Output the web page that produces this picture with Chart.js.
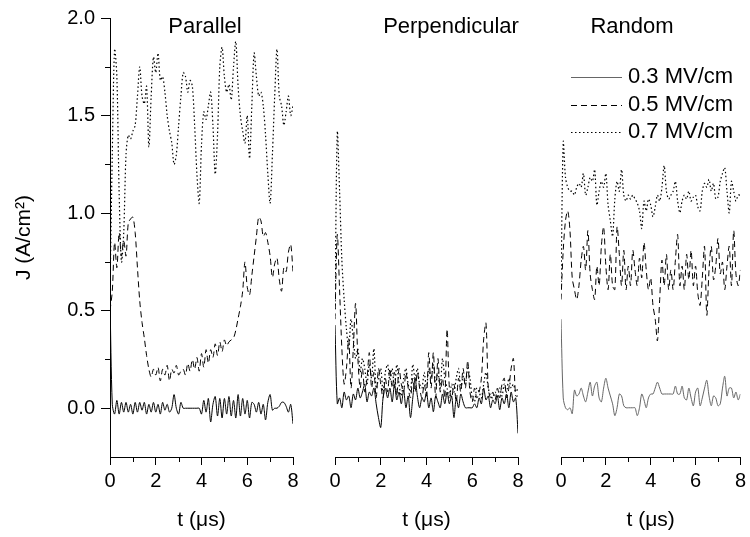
<!DOCTYPE html>
<html>
<head>
<meta charset="utf-8">
<script src="https://cdn.jsdelivr.net/npm/chart.js@4.4.1/dist/chart.umd.min.js"></script>
<style>
  body { margin: 0; background: #fff; }
  #wrap { position: relative; width: 750px; height: 537px; }
  #wrap canvas { position: absolute; left: 0; top: 0; }
</style>
</head>
<body>
<div id="wrap">
  <canvas id="c1" width="750" height="537"></canvas>
  <canvas id="c2" width="750" height="537"></canvas>
  <canvas id="c3" width="750" height="537"></canvas>
</div>
<script>
// time axis, in microseconds
const times = [
  0, 0.1, 0.2, 0.3, 0.4, 0.5, 0.6, 0.7, 0.8, 0.9,
  1.0, 1.1, 1.2, 1.3, 1.4, 1.5, 1.6, 1.7, 1.8, 1.9,
  2.0, 2.1, 2.2, 2.3, 2.4, 2.5, 2.6, 2.7, 2.8, 2.9,
  3.0, 3.1, 3.2, 3.3, 3.4, 3.5, 3.6, 3.7, 3.8, 3.9,
  4.0, 4.1, 4.2, 4.3, 4.4, 4.5, 4.6, 4.7, 4.8, 4.9,
  5.0, 5.1, 5.2, 5.3, 5.4, 5.5, 5.6, 5.7, 5.8, 5.9,
  6.0, 6.1, 6.2, 6.3, 6.4, 6.5, 6.6, 6.7, 6.8, 6.9,
  7.0, 7.1, 7.2, 7.3, 7.4, 7.5, 7.6, 7.7, 7.8, 7.9,
  8.0
];

const seriesNames = ['0.3 MV/cm', '0.5 MV/cm', '0.7 MV/cm'];
const panelNames = ['Parallel', 'Perpendicular', 'Random'];
const xMinor = [1, 3, 5, 7];
const yMinor = [0.25, 0.75, 1.25, 1.75];

// Parallel
const parallel03 = [
  0.55, 0.02, -0.03, 0.04, -0.03, 0.03, -0.02, 0.03, -0.02, 0.02,
  -0.03, 0.03, -0.02, 0.03, -0.01, 0.03, -0.03, 0.02, -0.02, 0.03,
  -0.02, 0.02, -0.03, 0.03, -0.01, 0.02, -0.02, 0.0, 0.07, 0.0,
  -0.03, 0.03, 0.0, 0.0, 0.0, 0.0, 0.0, 0.0, 0.0, 0.0,
  -0.03, 0.04, -0.02, 0.05, -0.07, 0.02, 0.06, -0.04, 0.05, -0.05,
  0.05, -0.03, 0.06, -0.04, 0.04, -0.05, 0.07, -0.04, 0.05, -0.03,
  0.04, -0.05, 0.03, 0.02, -0.02, 0.03, -0.03, 0.02, -0.06, 0.03,
  0.07, -0.01, 0.0, 0.0, 0.01, 0.03, 0.03, 0.01, -0.02, 0.02,
  -0.08
];
const parallel05 = [
  0.5, 0.6, 0.85, 0.72, 0.9, 0.78, 0.86, 0.78, 0.95, 0.97,
  0.98, 0.9, 0.72, 0.55, 0.44, 0.36, 0.27, 0.2, 0.16, 0.2,
  0.17, 0.21, 0.14, 0.2, 0.17, 0.22, 0.14, 0.2, 0.18, 0.22,
  0.17, 0.19, 0.2, 0.17, 0.23, 0.19, 0.25, 0.2, 0.26, 0.19,
  0.28, 0.21, 0.3, 0.23, 0.3, 0.26, 0.33, 0.27, 0.34, 0.29,
  0.35, 0.32, 0.34, 0.35, 0.36, 0.4, 0.46, 0.52, 0.6, 0.75,
  0.62, 0.58, 0.68, 0.78, 0.88, 0.98, 0.96, 0.88, 0.9, 0.85,
  0.78, 0.67, 0.74, 0.77, 0.66, 0.6, 0.72, 0.7, 0.8, 0.84,
  0.7
];
const parallel07 = [
  0.6, 1.3, 1.84, 1.7, 1.1, 0.75, 0.9, 1.3, 1.4, 1.38,
  1.42, 1.45, 1.6, 1.75, 1.6, 1.56, 1.65, 1.34, 1.6, 1.8,
  1.72, 1.82, 1.68, 1.7, 1.62, 1.5, 1.42, 1.36, 1.25, 1.3,
  1.45, 1.6, 1.72, 1.7, 1.62, 1.68, 1.65, 1.45, 1.2, 1.05,
  1.35, 1.52, 1.48, 1.55, 1.62, 1.45, 1.2, 1.4, 1.75, 1.85,
  1.7, 1.62, 1.66, 1.58, 1.75, 1.88, 1.65, 1.5, 1.42, 1.36,
  1.5, 1.28, 1.55, 1.82, 1.7, 1.6, 1.62, 1.55, 1.4, 1.2,
  1.05, 1.3, 1.6, 1.84, 1.6, 1.55, 1.45, 1.52, 1.6, 1.5,
  1.55
];

// Perpendicular
const perp03 = [
  0.42, 0.02, 0.05, 0.0, 0.08, 0.04, 0.06, 0.0, 0.07, 0.04,
  0.1, 0.05, 0.08, 0.12, 0.03, 0.08, 0.06, 0.1, 0.02, -0.05,
  -0.1, 0.05, 0.1, 0.05, 0.1, 0.03, 0.12, 0.04, 0.08, 0.02,
  0.09, 0.0, 0.06, -0.05, 0.05, 0.15, 0.06, 0.0, 0.05, 0.03,
  0.08, 0.0, 0.05, -0.02, 0.06, 0.03, 0.0, 0.07, 0.02, 0.08,
  0.02, 0.06, -0.05, 0.05, 0.0, 0.07, 0.03, 0.0, 0.0, 0.0,
  0.0, 0.02, 0.0, 0.05, 0.02, 0.1, 0.04, 0.06, 0.0, 0.04,
  0.02, 0.06, -0.01, 0.05, 0.02, 0.07, 0.0, 0.08, 0.03, 0.05,
  -0.13
];
const perp05 = [
  0.45, 0.88, 0.6, 0.3, 0.12, 0.2, 0.35, 0.1, 0.3, 0.53,
  0.25, 0.1, 0.2, 0.08, 0.15, 0.28, 0.1, 0.18, 0.05, 0.2,
  0.12, 0.05, 0.15, 0.08, 0.2, 0.1, 0.18, 0.06, 0.2, 0.12,
  0.08, 0.18, 0.1, 0.05, 0.15, 0.08, 0.18, 0.1, 0.05, 0.12,
  0.06, 0.28, 0.1, 0.28, 0.05, 0.25, 0.08, 0.15, 0.05, 0.4,
  0.1, 0.05, 0.12, 0.03, 0.15, 0.08, 0.2, 0.1, 0.24, 0.08,
  0.03, 0.1, 0.05, 0.08, 0.15, 0.35, 0.43, 0.1, 0.05, 0.08,
  0.04, 0.1, 0.05, 0.12, 0.15, 0.05, 0.1, 0.2, 0.25, 0.06,
  0.06
];
const perp07 = [
  0.5, 1.4, 1.1, 0.75, 0.55, 0.4, 0.3, 0.45, 0.35, 0.25,
  0.3, 0.18, 0.25, 0.2, 0.12, 0.22, 0.15, 0.3, 0.1, 0.15,
  0.2, 0.08, 0.18, 0.22, 0.14, 0.2, 0.1, 0.22, 0.12, 0.06,
  0.15, 0.2, 0.12, 0.08, 0.22, 0.15, 0.2, 0.12, 0.1, 0.18,
  0.1, 0.2, 0.15, 0.22, 0.12, 0.18, 0.1, 0.25, 0.15, 0.1,
  0.05, 0.12, 0.08, 0.15, 0.2, 0.1, 0.16, 0.12, 0.2, 0.15,
  0.05, 0.03, 0.1, 0.08, 0.05, 0.12, 0.18, 0.1, 0.06, 0.05,
  0.08, 0.05, 0.1, 0.06, 0.12, 0.08, 0.15, 0.1, 0.12, 0.08,
  0.1
];

// Random
const random03 = [
  0.45, 0.05, 0.0, -0.01, 0.0, -0.03, 0.09, 0.06, 0.07, 0.1,
  0.06, 0.03, 0.08, 0.13, 0.06, 0.11, 0.13, 0.05, 0.03, 0.1,
  0.15, 0.1, 0.06, 0.02, -0.04, 0.0, 0.07, 0.06, 0.01, 0.0,
  0.0, 0.0, 0.0, 0.0, -0.04, 0.0, 0.07, 0.04, 0.0, 0.05,
  0.07, 0.07, 0.1, 0.13, 0.1, 0.07, 0.07, 0.07, 0.07, 0.07,
  0.07, 0.11, 0.07, 0.07, 0.11, 0.05, 0.04, 0.1, 0.05, 0.01,
  0.08, 0.1, 0.01, 0.05, 0.1, 0.14, 0.06, 0.01, 0.06, 0.05,
  0.01, 0.02, 0.1, 0.16, 0.06, 0.1, 0.1, 0.05, 0.08, 0.04,
  0.07
];
const random05 = [
  0.55, 0.8, 0.95, 1.0, 0.9, 0.66, 0.6, 0.55, 0.62, 0.75,
  0.82, 0.7, 0.9, 0.68, 0.6, 0.55, 0.72, 0.62, 0.82, 0.92,
  0.72, 0.6, 0.78, 0.62, 0.6, 0.92, 0.78, 0.62, 0.8, 0.6,
  0.72, 0.62, 0.8, 0.7, 0.62, 0.76, 0.66, 0.84, 0.7, 0.6,
  0.66, 0.52, 0.45, 0.34, 0.55, 0.75, 0.62, 0.78, 0.6, 0.7,
  0.6, 0.75, 0.88, 0.62, 0.72, 0.6, 0.78, 0.65, 0.8, 0.62,
  0.72, 0.58, 0.52, 0.66, 0.82, 0.47, 0.7, 0.82, 0.65, 0.72,
  0.86, 0.68, 0.74, 0.6, 0.72, 0.82, 0.62, 0.9, 0.68, 0.62,
  0.7
];
const random07 = [
  0.6, 1.35, 1.17, 1.12, 1.1, 1.1, 1.08, 1.12, 1.14, 1.12,
  1.19, 1.08, 1.12, 1.17, 1.15, 1.21, 1.03, 1.1, 1.15, 1.12,
  1.19, 1.03, 0.95, 0.87, 1.06, 1.15, 1.1, 1.21, 1.08, 1.05,
  1.08, 1.06, 1.08, 1.06, 1.04, 1.0, 0.91, 1.05, 1.0, 1.06,
  1.03, 0.97, 1.02, 1.08, 1.05, 1.12, 1.23, 1.1, 1.06, 1.08,
  1.1, 1.15, 1.05, 0.99, 1.05, 1.08, 1.06, 1.1, 1.05, 1.07,
  1.08, 1.02, 1.0, 1.1, 1.14, 1.12, 1.16, 1.1, 1.14, 1.06,
  1.07, 1.15, 1.19, 1.22, 1.1, 0.99, 1.15, 1.1, 1.05, 1.08,
  1.08
];

Chart.defaults.font.family = 'Liberation Sans, Arial, sans-serif';
Chart.defaults.color = '#000';

const pts = ys => ys.map((y, i) => ({ x: times[i], y: y }));

function lines(v03, v05, v07, solidColor) {
  return [
    { label: seriesNames[0], data: pts(v03), borderColor: solidColor, borderWidth: 1 },
    { label: seriesNames[1], data: pts(v05), borderColor: '#000', borderWidth: 1, borderDash: [6, 4] },
    { label: seriesNames[2], data: pts(v07), borderColor: '#000', borderWidth: 1.2, borderDash: [1.5, 2.5] }
  ];
}

// minor ticks, panel name and (on the last panel) the legend
const decor = {
  id: 'decor',
  afterDraw(chart, args, opts) {
    const ctx = chart.ctx;
    const xs = chart.scales.x, ys = chart.scales.y;
    ctx.save();
    ctx.strokeStyle = '#000';
    ctx.lineWidth = 1;
    ctx.setLineDash([]);
    ctx.beginPath();
    xMinor.forEach(v => {
      const px = Math.round(xs.getPixelForValue(v)) + 0.5;
      ctx.moveTo(px, xs.top);
      ctx.lineTo(px, xs.top + 5);
    });
    if (opts.yAxis) {
      yMinor.forEach(v => {
        const py = Math.round(ys.getPixelForValue(v)) + 0.5;
        ctx.moveTo(ys.right - 5, py);
        ctx.lineTo(ys.right, py);
      });
    }
    ctx.stroke();

    ctx.fillStyle = '#000';
    ctx.font = '22px Liberation Sans, Arial, sans-serif';
    ctx.textAlign = 'center';
    ctx.textBaseline = 'alphabetic';
    ctx.fillText(opts.title, opts.titleX, 33);

    if (opts.legend) {
      const rows = [77, 105, 132];
      ctx.textAlign = 'left';
      ctx.textBaseline = 'middle';
      chart.data.datasets.forEach((ds, i) => {
        ctx.strokeStyle = ds.borderColor;
        ctx.lineWidth = ds.borderWidth;
        ctx.setLineDash(ds.borderDash || []);
        ctx.beginPath();
        ctx.moveTo(571, rows[i] + 0.5);
        ctx.lineTo(622, rows[i] + 0.5);
        ctx.stroke();
        ctx.fillText(ds.label, 628, rows[i]);
      });
    }
    ctx.restore();
  }
};

function makeChart(id, datasets, padLeft, padRight, showY, title, titleX, legend) {
  return new Chart(document.getElementById(id), {
    type: 'line',
    data: { datasets: datasets },
    plugins: [decor],
    options: {
      responsive: false,
      animation: false,
      devicePixelRatio: 1,
      layout: { padding: { left: padLeft, right: padRight, top: 14, bottom: 0 } },
      elements: { point: { radius: 0 }, line: { tension: 0.3 } },
      plugins: {
        legend: { display: false },
        tooltip: { enabled: false },
        decor: { yAxis: showY, title: title, titleX: titleX, legend: legend }
      },
      scales: {
        x: {
          type: 'linear',
          min: 0,
          max: 8,
          afterFit: s => { s.height = 80; },
          ticks: { stepSize: 2, font: { size: 20 }, padding: 4, maxRotation: 0 },
          grid: { drawOnChartArea: false, color: '#000', tickLength: 8 },
          border: { color: '#000', width: 1 },
          title: { display: true, text: 't (\u03bcs)', font: { size: 21 }, padding: { top: 0, bottom: 4 } }
        },
        y: {
          display: showY,
          min: -0.25,
          max: 2.0,
          afterFit: s => { s.width = showY ? 110 : 0; },
          ticks: { stepSize: 0.5, includeBounds: false, font: { size: 20 }, padding: 6, callback: v => v.toFixed(1) },
          grid: { drawOnChartArea: false, color: '#000', tickLength: 9 },
          border: { color: '#000', width: 1 },
          title: { display: true, text: 'J (A/cm\u00b2)', font: { size: 21 }, padding: { top: 12, bottom: 0 } }
        }
      }
    }
  });
}

makeChart('c1', lines(parallel03, parallel05, parallel07, '#000'), 0, 457, true, panelNames[0], 205, false);
makeChart('c2', lines(perp03, perp05, perp07, '#000'), 335, 232, false, panelNames[1], 451, false);
makeChart('c3', lines(random03, random05, random07, '#666'), 561, 7, false, panelNames[2], 632, true);
</script>
</body>
</html>
